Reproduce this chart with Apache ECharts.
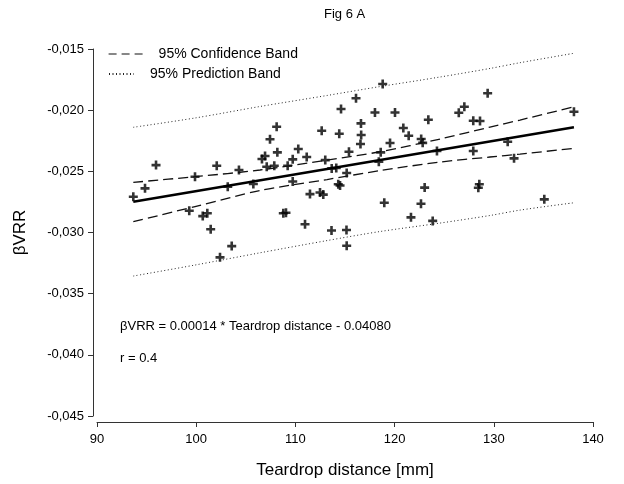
<!DOCTYPE html>
<html><head><meta charset="utf-8">
<script src="https://cdn.jsdelivr.net/npm/echarts@6/dist/echarts.min.js"></script>
<style>html,body{margin:0;padding:0;background:#fff}#c{width:624px;height:484px}</style>
</head><body><div id="c"></div>
<script>
// Scatter data (Teardrop distance [mm], βVRR)
const teardropDistance = [93.66,94.84,95.95,99.30,99.88,100.66,101.12,101.46,102.07,102.40,103.18,103.58,104.31,105.76,106.63,106.94,107.11,107.44,107.87,108.11,108.18,108.78,109.05,109.22,109.73,109.73,110.29,110.97,111.14,111.47,112.48,112.81,112.65,113.01,113.66,114.12,113.64,115.15,115.17,114.32,114.50,114.42,114.60,115.17,115.40,116.11,116.61,116.63,116.56,118.02,118.80,118.41,118.60,118.96,119.54,120.04,120.88,121.42,121.65,122.66,122.68,122.83,123.03,123.40,123.84,124.27,126.47,127.03,127.93,128.61,129.38,127.93,128.54,128.44,131.40,132.04,135.09,138.08];
const betaVRR = [-0.02708,-0.02639,-0.02449,-0.02822,-0.02544,-0.02866,-0.02843,-0.02974,-0.02454,-0.03203,-0.02626,-0.03111,-0.02489,-0.02604,-0.02399,-0.02375,-0.02462,-0.02238,-0.02454,-0.02135,-0.02345,-0.02843,-0.02839,-0.02454,-0.02402,-0.02583,-0.02318,-0.02933,-0.02383,-0.02686,-0.02673,-0.02690,-0.02168,-0.02408,-0.02476,-0.02473,-0.02984,-0.02980,-0.03108,-0.02606,-0.02616,-0.02193,-0.01991,-0.02514,-0.02340,-0.01903,-0.02108,-0.02203,-0.02277,-0.02019,-0.01786,-0.02422,-0.02345,-0.02757,-0.02269,-0.02019,-0.02146,-0.02209,-0.02876,-0.02765,-0.02236,-0.02267,-0.02633,-0.02078,-0.02905,-0.02334,-0.02021,-0.01972,-0.02086,-0.02089,-0.01862,-0.02334,-0.02606,-0.02634,-0.02258,-0.02394,-0.02729,-0.02013];

// Regression line endpoints
const regressionX = [93.66, 138.08];
const regressionY = [-0.02749, -0.02140];

// Bands
const bandX = [93.66, 99.88, 106.43, 113.19, 118.53, 124.58, 129.62, 132.64, 138.08];
const confUpper = [-0.02590,-0.02544,-0.02489,-0.02408,-0.02340,-0.02236,-0.02138,-0.02081,-0.01972];
const confLower = [-0.02912,-0.02788,-0.02657,-0.02567,-0.02494,-0.02424,-0.02383,-0.02359,-0.02312];
const predUpper = [-0.02140,-0.02064,-0.01970,-0.01880,-0.01807,-0.01729,-0.01659,-0.01612,-0.01535];
const predLower = [-0.03356,-0.03266,-0.03166,-0.03066,-0.02992,-0.02923,-0.02861,-0.02817,-0.02757];

const chartTitle = 'Fig 6 A';
const equationText = 'βVRR = 0.00014 * Teardrop distance - 0.04080';
const rText = 'r = 0.4';

const FONT = '"Liberation Sans", Arial, sans-serif';
const zip = (a, b) => a.map((v, i) => [v, b[i]]);
const plus = 'path://M3.2,0L5.8,0L5.8,3.2L9,3.2L9,5.8L5.8,5.8L5.8,9L3.2,9L3.2,5.8L0,5.8L0,3.2L3.2,3.2Z';

const chart = echarts.init(document.getElementById('c'), null, {renderer: 'canvas'});
chart.setOption({
  animation: false,
  backgroundColor: '#fff',
  textStyle: {fontFamily: FONT},
  title: {text: chartTitle, left: 319, top: 3,
    textStyle: {fontFamily: FONT, fontSize: 13, fontWeight: 'normal', color: '#000'}},
  legend: [
    {left: 108, top: 47, padding: 0, itemWidth: 34, itemHeight: 14, data: ['95% Confidence Band'],
     itemStyle: {opacity: 0}, lineStyle: {type: [8, 5], width: 1.2, color: '#111'},
     textStyle: {fontFamily: FONT, fontSize: 14, color: '#000', padding: [0,0,0,11]}},
    {left: 108, top: 67, padding: 0, itemWidth: 25, itemHeight: 14, data: ['95% Prediction Band'],
     itemStyle: {opacity: 0},
     textStyle: {fontFamily: FONT, fontSize: 14, color: '#000', padding: [0,0,0,11]}}
  ],
  grid: {left: 97, right: 31, top: 49, bottom: 68, containLabel: false},
  xAxis: {
    type: 'value', min: 90, max: 140, interval: 10, offset: 6,
    name: 'Teardrop distance [mm]', nameLocation: 'middle', nameGap: 40,
    nameTextStyle: {fontFamily: FONT, fontSize: 17, color: '#000'},
    axisLine: {show: true, lineStyle: {color: '#333', width: 1}},
    axisTick: {show: true, length: 5, lineStyle: {color: '#333'}},
    axisLabel: {fontFamily: FONT, fontSize: 13, color: '#000', margin: 11},
    splitLine: {show: false}
  },
  yAxis: {
    type: 'value', min: -0.045, max: -0.015, interval: 0.005, offset: 4,
    name: 'βVRR', nameLocation: 'middle', nameGap: 64, nameRotate: 90,
    nameTextStyle: {fontFamily: FONT, fontSize: 17, color: '#000'},
    axisLine: {show: true, lineStyle: {color: '#333', width: 1}},
    axisTick: {show: true, length: 5, lineStyle: {color: '#333'}},
    axisLabel: {fontFamily: FONT, fontSize: 13, color: '#000', margin: 9,
      formatter: v => v.toFixed(3).replace('.', ',')},
    splitLine: {show: false}
  },
  graphic: [
    {type: 'text', left: 120, top: 320, style: {text: equationText, font: '13px ' + FONT, fill: '#000'}},
    {type: 'text', left: 120, top: 352, style: {text: rText, font: '13px ' + FONT, fill: '#000'}}
  ],
  series: [
    {name: '95% Prediction Band', type: 'line', data: zip(bandX, predUpper), symbol: 'none', smooth: 0.3,
     lineStyle: {color: '#222', width: 1, type: [1, 2.5]}, itemStyle: {color: '#222'}},
    {name: '95% Prediction Band', type: 'line', data: zip(bandX, predLower), symbol: 'none', smooth: 0.3,
     lineStyle: {color: '#222', width: 1, type: [1, 2.5]}, itemStyle: {color: '#222'}},
    {name: '95% Confidence Band', type: 'line', data: zip(bandX, confUpper), symbol: 'none', smooth: 0.3,
     lineStyle: {color: '#111', width: 1.3, type: [10, 5]}, itemStyle: {color: '#111'}},
    {name: '95% Confidence Band', type: 'line', data: zip(bandX, confLower), symbol: 'none', smooth: 0.3,
     lineStyle: {color: '#111', width: 1.3, type: [10, 5]}, itemStyle: {color: '#111'}},
    {name: 'Regression', type: 'line', data: zip(regressionX, regressionY), symbol: 'none',
     lineStyle: {color: '#000', width: 2.6}},
    {name: 'Data', type: 'scatter', data: zip(teardropDistance, betaVRR), symbol: plus, symbolSize: 9,
     itemStyle: {color: '#000'}}
  ]
});
</script>
</body></html>
